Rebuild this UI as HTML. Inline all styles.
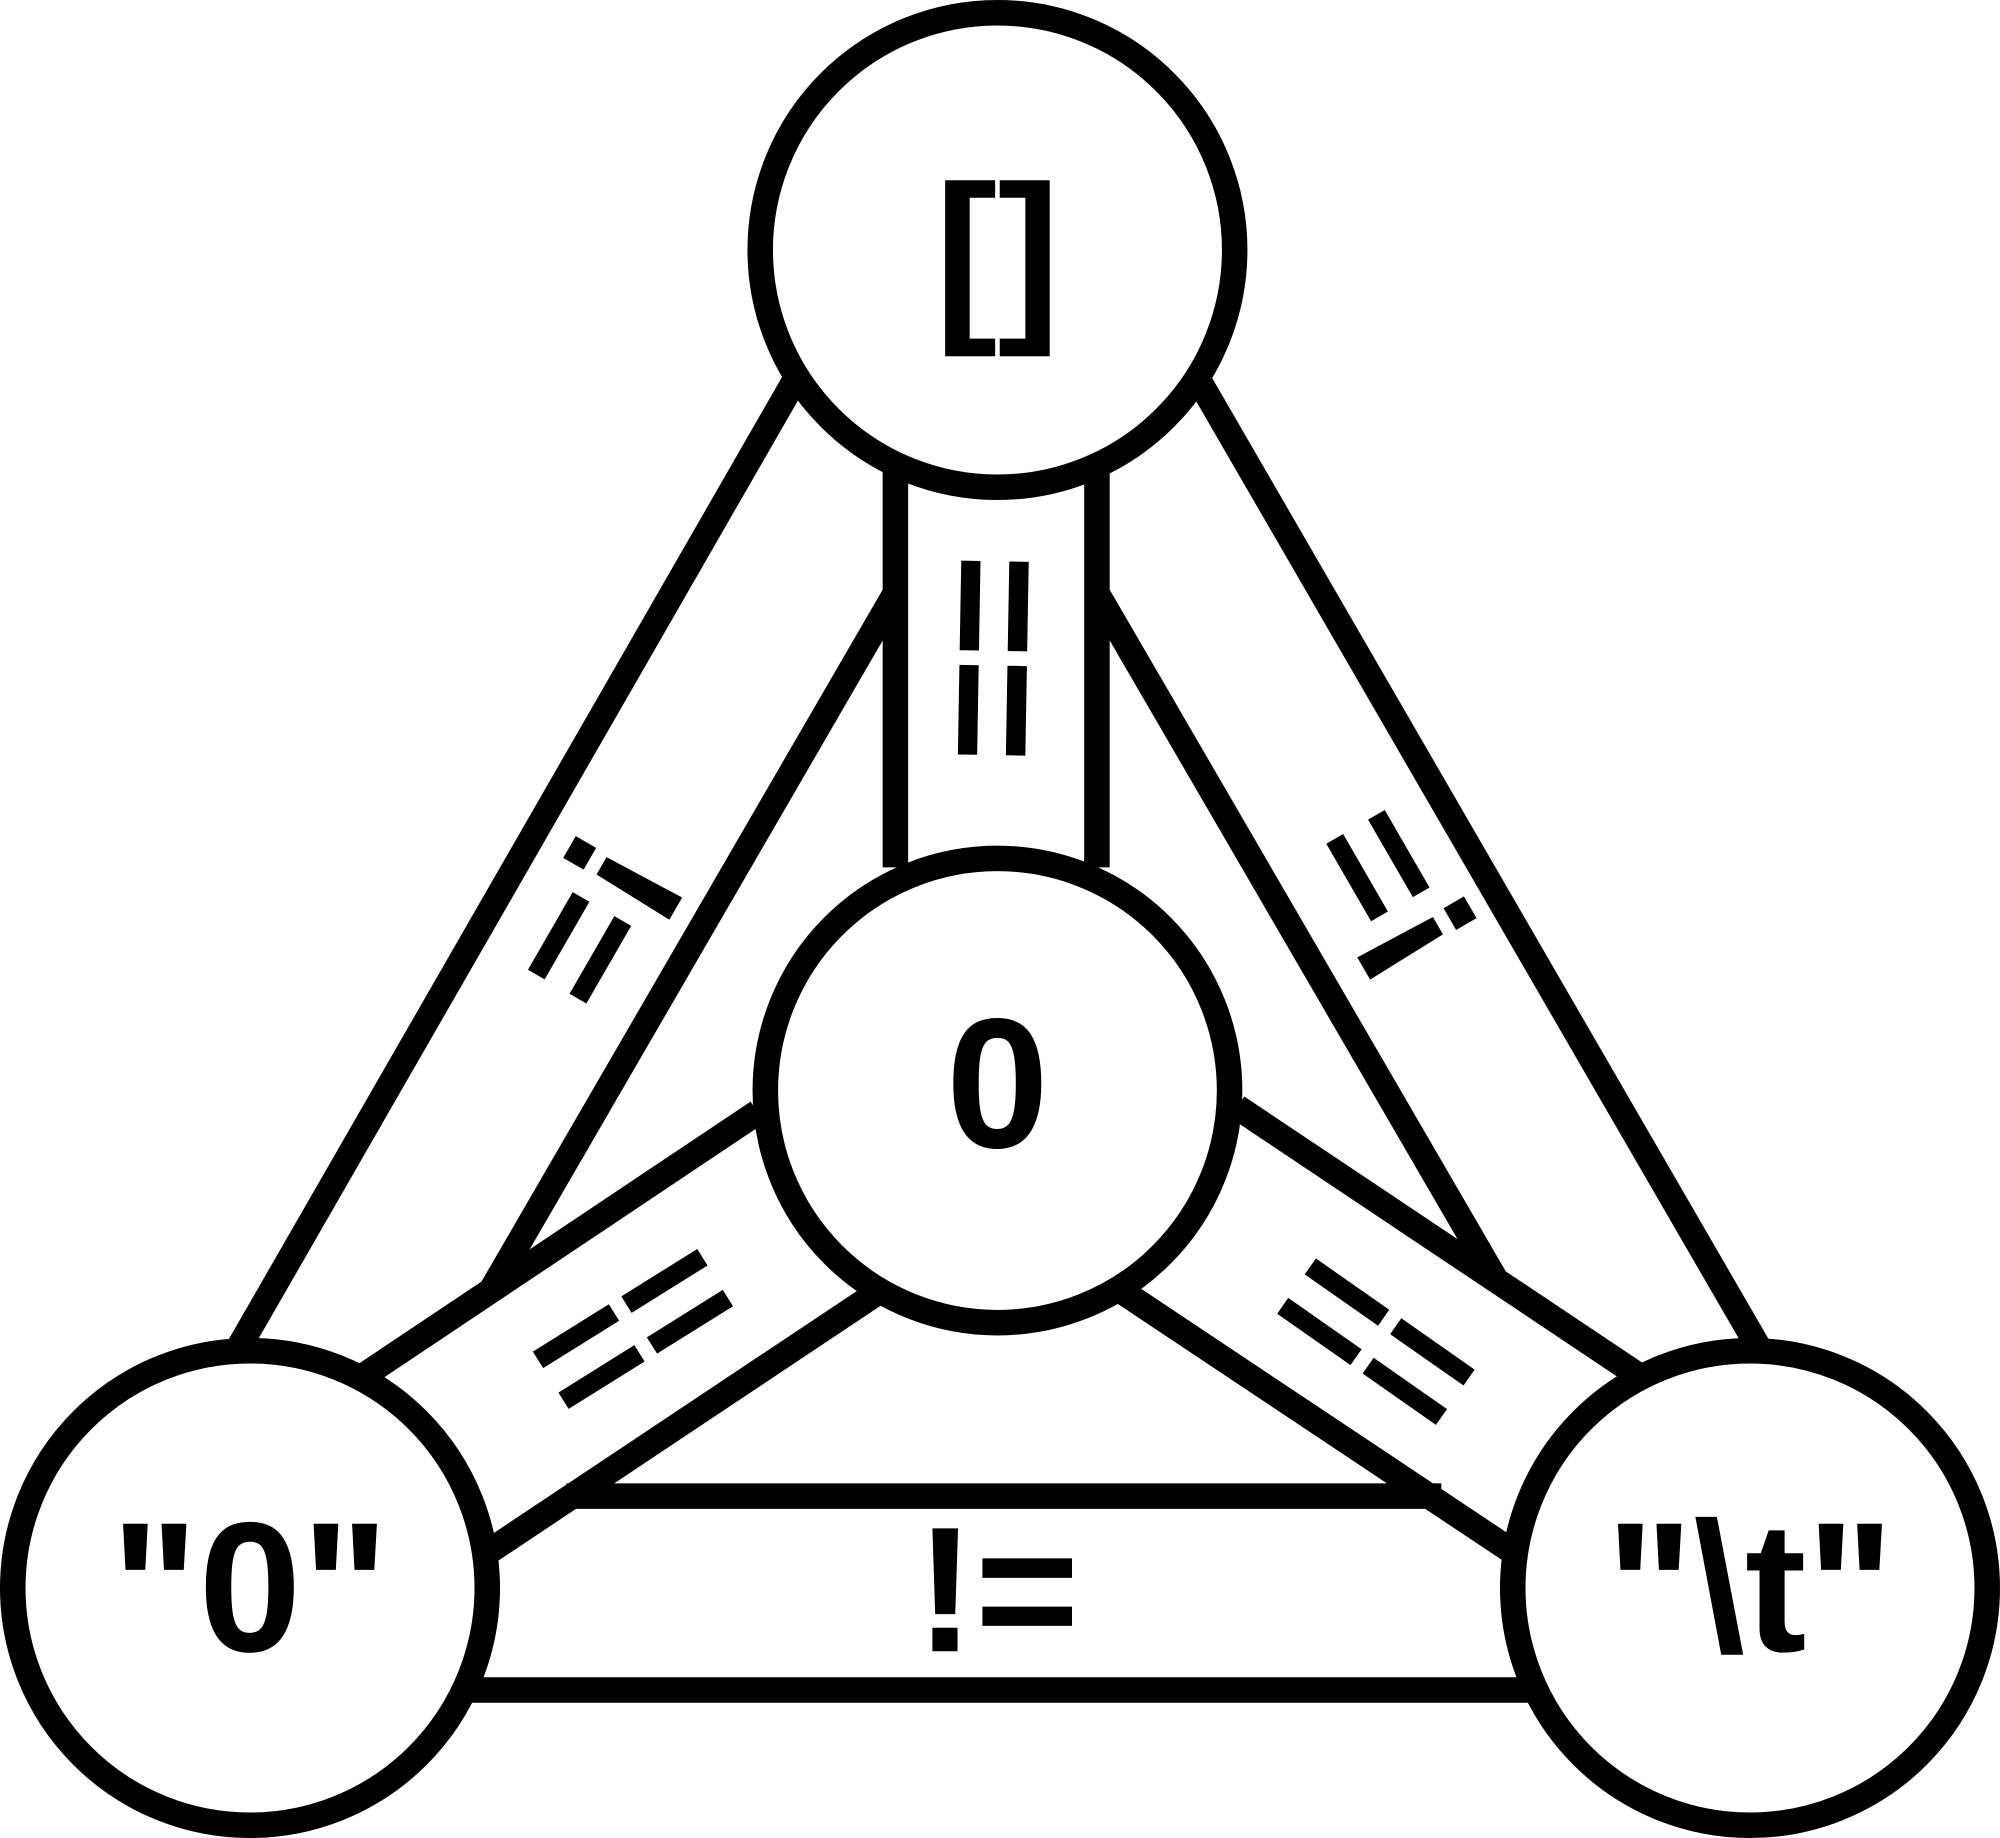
<!DOCTYPE html>
<html><head><meta charset="utf-8"><style>html,body{margin:0;padding:0;background:#fff}svg{display:block}</style></head>
<body>
<svg width="2000" height="1838" viewBox="0 0 1568 1441" xmlns="http://www.w3.org/2000/svg">
<rect width="1568" height="1441" fill="#fff"/>
<g stroke="#000" stroke-width="20" fill="none" stroke-linecap="butt">
<line x1="625" y1="295" x2="188" y2="1055"/>
<line x1="938" y1="295" x2="1378" y2="1055"/>
<line x1="702" y1="362" x2="702" y2="680"/>
<line x1="860" y1="362" x2="860" y2="680"/>
<line x1="702" y1="465" x2="386" y2="1010"/>
<line x1="860" y1="465" x2="1172" y2="1002"/>
<line x1="594" y1="872" x2="280" y2="1082"/>
<line x1="690" y1="1012" x2="378" y2="1220"/>
<line x1="970" y1="868" x2="1290" y2="1082"/>
<line x1="876" y1="1010" x2="1188" y2="1218"/>
<line x1="444" y1="1173" x2="1130" y2="1173"/>
<line x1="362" y1="1325" x2="1206" y2="1325"/>
</g>
<g stroke="#000" stroke-width="20" fill="#fff">
<circle cx="782" cy="196" r="186"/>
<circle cx="782" cy="855" r="182"/>
<circle cx="196" cy="1245" r="186"/>
<circle cx="1372" cy="1245" r="186"/>
</g>
<g font-family="Liberation Sans, sans-serif" font-weight="bold" fill="#000" text-anchor="middle" dominant-baseline="central">
<text x="782" y="198" font-size="148">[]</text>
<text x="782" y="850" font-size="145">0</text>
<text x="196" y="1245" font-size="145">"0"</text>
<text x="1372" y="1245" font-size="145">"\t"</text>
<text x="782" y="1246" font-size="140">!=</text>
<text font-size="140" transform="translate(781,516) rotate(91)">==</text>
<text font-size="140" transform="translate(468,724) rotate(120)">!=</text>
<text font-size="140" transform="translate(1090,700) rotate(-120)">!=</text>
<text font-size="140" transform="translate(495,1040) rotate(-32)">==</text>
<text font-size="140" transform="translate(1080,1050) rotate(35)">==</text>
</g>
</svg>
</body></html>
